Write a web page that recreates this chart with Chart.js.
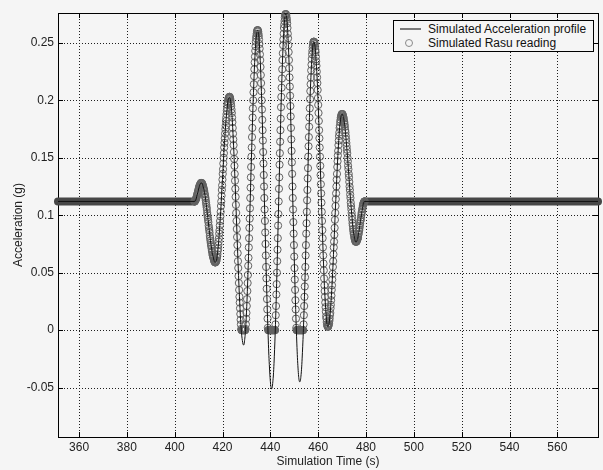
<!DOCTYPE html>
<html>
<head>
<meta charset="utf-8">
<script src="https://cdn.jsdelivr.net/npm/chart.js@4.4.1/dist/chart.umd.min.js"></script>
<style>
  html, body { margin: 0; padding: 0; background: #f5f5f5; }
  #wrap { position: relative; width: 603px; height: 470px; }
  #legend { position: absolute; left: 393px; top: 20px; width: 199px; height: 30px;
            border: 1px solid #000; background: #f5f5f5;
            font: 12px "Liberation Sans", Arial, sans-serif; color: #111; }
  #legend .txt { position: absolute; left: 34px; height: 14px; line-height: 14px; white-space: nowrap; }
  #legend .sw-line { position: absolute; left: 6px; width: 21px; height: 2px; background: #7a7a7a; }
  #legend .sw-circle { position: absolute; width: 8px; height: 8px; box-sizing: border-box;
                       border: 1px solid #8a8a8a; border-radius: 50%; }
</style>
</head>
<body>
<div id="wrap">
  <canvas id="c" width="603" height="470"></canvas>
  <div id="legend"></div>
</div>
<script>
// ---------------- data ----------------
const xTickValues = [360, 380, 400, 420, 440, 460, 480, 500, 520, 540, 560];
const yTickValues = [-0.05, 0, 0.05, 0.1, 0.15, 0.2, 0.25];

const profileLabel = 'Simulated Acceleration profile';
const rasuLabel = 'Simulated Rasu reading';

// steady level before and after the burst (g) and the time spans it covers (s)
const baselineG = 0.112;
const baselineSpans = [[351.2, 408.2], [479.5, 577.0]];

// burst: first sample time (s) and sample spacing of each series (s)
const burstStart = 408.2;
const readingStep = 0.1225;
const profileStep = 0.245;

// Simulated Rasu reading (g), clipped at 0
const rasuReadingG = [
  .112,.112,.112,.113,.113,.114,.114,.115,.116,.117,.118,.119,.120,.121,.122,.123,.124,.125,.126,.126,.127,.127,.128,.128,
  .128,.128,.128,.127,.127,.126,.125,.124,.123,.122,.121,.119,.118,.116,.115,.113,.111,.109,.107,.105,.102,.100,.098,.096,
  .094,.091,.089,.087,.085,.082,.080,.078,.076,.074,.073,.071,.069,.068,.066,.065,.064,.063,.062,.061,.060,.060,.059,.059,
  .059,.059,.060,.060,.061,.063,.064,.066,.069,.071,.074,.077,.080,.084,.087,.091,.095,.099,.103,.108,.112,.117,.122,.126,
  .131,.136,.140,.145,.150,.154,.159,.163,.167,.171,.175,.178,.182,.185,.188,.191,.193,.196,.198,.199,.201,.202,.202,.203,
  .203,.203,.202,.201,.199,.197,.195,.192,.189,.185,.181,.176,.171,.166,.161,.155,.149,.143,.136,.130,.123,.116,.109,.102,
  .095,.088,.081,.074,.067,.060,.054,.047,.041,.035,.029,.024,.019,.014,.009,.005,.001,0,0,0,0,0,0,0,
  0,0,0,0,0,0,0,.001,.005,.010,.015,.021,.027,.034,.041,.048,.056,.063,.072,.080,.089,.097,.106,.115,
  .124,.133,.142,.151,.159,.168,.176,.185,.193,.200,.207,.214,.221,.227,.233,.238,.243,.247,.251,.254,.256,.258,.260,.261,
  .261,.261,.260,.258,.256,.253,.249,.245,.240,.235,.229,.222,.215,.208,.200,.192,.183,.174,.165,.155,.145,.135,.125,.115,
  .105,.095,.085,.075,.065,.055,.045,.036,.027,.018,.010,.002,0,0,0,0,0,0,0,0,0,0,0,0,
  0,0,0,0,0,0,0,0,0,0,0,0,0,.005,.013,.021,.031,.040,.050,.060,.070,.080,.091,.101,
  .112,.123,.133,.144,.154,.164,.174,.184,.194,.203,.211,.219,.227,.235,.241,.248,.253,.258,.263,.266,.269,.272,.274,.275,
  .275,.275,.274,.272,.270,.267,.263,.258,.254,.248,.242,.235,.228,.220,.212,.204,.195,.186,.176,.166,.156,.146,.136,.125,
  .115,.105,.094,.084,.074,.064,.054,.044,.035,.026,.018,.010,.002,0,0,0,0,0,0,0,0,0,0,0,
  0,0,0,0,0,0,0,0,0,0,0,0,0,.005,.013,.021,.029,.038,.046,.055,.065,.074,.084,.093,
  .103,.113,.122,.132,.141,.151,.160,.168,.177,.185,.193,.201,.208,.214,.220,.226,.231,.236,.240,.243,.246,.248,.250,.251,
  .251,.251,.250,.249,.247,.244,.242,.238,.234,.230,.225,.220,.215,.209,.202,.196,.189,.182,.174,.167,.159,.151,.143,.135,
  .127,.119,.111,.103,.095,.087,.080,.072,.065,.058,.052,.045,.039,.034,.029,.024,.020,.016,.012,.010,.007,.005,.004,.003,
  .003,.003,.004,.005,.006,.008,.010,.013,.015,.019,.022,.026,.030,.035,.039,.044,.049,.055,.060,.066,.072,.077,.083,.089,
  .096,.102,.108,.114,.119,.125,.131,.136,.142,.147,.152,.156,.161,.165,.169,.172,.176,.178,.181,.183,.185,.186,.187,.188,
  .188,.188,.188,.187,.186,.185,.184,.182,.181,.179,.177,.174,.172,.169,.166,.163,.160,.157,.154,.150,.147,.143,.140,.136,
  .133,.129,.125,.122,.118,.115,.111,.108,.105,.102,.099,.096,.093,.091,.088,.086,.084,.083,.081,.080,.079,.078,.077,.077,
  .077,.077,.077,.078,.079,.079,.080,.081,.083,.084,.086,.087,.089,.091,.093,.095,.096,.098,.100,.102,.103,.105,.106,.108,
  .109,.110,.111,.111,.112,.112,.112
];

// Simulated Acceleration profile over the burst (g), not clipped
const profileG = [
  .112,.112,.113,.114,.116,.118,.120,.122,.124,.126,.127,.128,
  .128,.128,.127,.125,.123,.121,.118,.115,.111,.107,.102,.098,.094,.089,.085,.080,.076,.073,.069,.066,.064,.062,.060,.059,
  .059,.060,.061,.064,.069,.074,.080,.087,.095,.103,.112,.122,.131,.140,.150,.159,.167,.175,.182,.188,.193,.198,.201,.202,
  .203,.202,.199,.195,.189,.181,.171,.161,.149,.136,.123,.109,.095,.081,.067,.054,.041,.029,.019,.009,.001,-.005,-.009,-.012,
  -.013,-.012,-.008,-.003,.005,.015,.027,.041,.056,.072,.089,.106,.124,.142,.159,.176,.193,.207,.221,.233,.243,.251,.256,.260,
  .261,.260,.256,.249,.240,.229,.215,.200,.183,.165,.145,.125,.105,.085,.065,.045,.027,.010,-.005,-.019,-.030,-.039,-.046,-.050,
  -.051,-.050,-.045,-.039,-.029,-.017,-.003,.013,.031,.050,.070,.091,.112,.133,.154,.174,.194,.211,.227,.241,.253,.263,.269,.274,
  .275,.274,.270,.263,.254,.242,.228,.212,.195,.176,.156,.136,.115,.094,.074,.054,.035,.018,.002,-.012,-.024,-.033,-.040,-.044,
  -.045,-.044,-.040,-.034,-.025,-.014,-.002,.013,.029,.046,.065,.084,.103,.122,.141,.160,.177,.193,.208,.220,.231,.240,.246,.250,
  .251,.250,.247,.242,.234,.225,.215,.202,.189,.174,.159,.143,.127,.111,.095,.080,.065,.052,.039,.029,.020,.012,.007,.004,
  .003,.004,.006,.010,.015,.022,.030,.039,.049,.060,.072,.083,.096,.108,.119,.131,.142,.152,.161,.169,.176,.181,.185,.187,
  .188,.188,.186,.184,.181,.177,.172,.166,.160,.154,.147,.140,.133,.125,.118,.111,.105,.099,.093,.088,.084,.081,.079,.077,
  .077,.077,.079,.080,.083,.086,.089,.093,.096,.100,.103,.106,.109,.111,.112,.112
];

// ---------------- build chart ----------------
const sampled = (values, t0, dt) => values.map((v, i) => ({ x: t0 + i * dt, y: v }));

const profilePoints = [
  { x: baselineSpans[0][0], y: baselineG },
  ...sampled(profileG, burstStart, profileStep),
  { x: baselineSpans[1][1], y: baselineG }
];
const readingPoints = sampled(rasuReadingG, burstStart, readingStep);

const FONT = '"Liberation Sans", Arial, sans-serif';

const matlabFrame = {
  id: 'matlabFrame',
  beforeDatasetsDraw(chart) {
    const { ctx, chartArea: a, scales: { x, y } } = chart;
    ctx.save();
    // dotted grid
    ctx.strokeStyle = '#1e1e1e';
    ctx.lineWidth = 1;
    ctx.setLineDash([1, 2]);
    xTickValues.forEach(v => {
      const px = Math.round(x.getPixelForValue(v)) + 0.5;
      ctx.beginPath(); ctx.moveTo(px, a.top); ctx.lineTo(px, a.bottom); ctx.stroke();
    });
    yTickValues.forEach(v => {
      const py = Math.round(y.getPixelForValue(v)) + 0.5;
      ctx.beginPath(); ctx.moveTo(a.left, py); ctx.lineTo(a.right, py); ctx.stroke();
    });
    // box and inward ticks
    ctx.setLineDash([]);
    ctx.strokeStyle = '#000';
    ctx.strokeRect(a.left + 0.5, a.top + 0.5, a.right - a.left, a.bottom - a.top);
    const tl = 5;
    ctx.beginPath();
    xTickValues.forEach(v => {
      const px = Math.round(x.getPixelForValue(v)) + 0.5;
      ctx.moveTo(px, a.bottom); ctx.lineTo(px, a.bottom - tl);
      ctx.moveTo(px, a.top); ctx.lineTo(px, a.top + tl);
    });
    yTickValues.forEach(v => {
      const py = Math.round(y.getPixelForValue(v)) + 0.5;
      ctx.moveTo(a.left, py); ctx.lineTo(a.left + tl, py);
      ctx.moveTo(a.right, py); ctx.lineTo(a.right - tl, py);
    });
    ctx.stroke();
    ctx.restore();
  }
};

const bandSets = baselineSpans.map(span => ({
  label: rasuLabel,
  data: span.map(t => ({ x: t, y: baselineG })),
  borderColor: '#474747',
  borderWidth: 8,
  borderCapStyle: 'round',
  pointRadius: 0,
  order: 2,
  clip: false
}));

new Chart(document.getElementById('c'), {
  type: 'line',
  data: {
    datasets: [
      {
        label: profileLabel,
        data: profilePoints,
        borderColor: '#111',
        borderWidth: 1,
        pointRadius: 0,
        cubicInterpolationMode: 'monotone',
        order: 0,
        clip: false
      },
      {
        label: rasuLabel,
        data: readingPoints,
        showLine: false,
        pointStyle: 'circle',
        pointRadius: 3.6,
        pointBorderWidth: 1,
        pointBorderColor: '#626262',
        pointBackgroundColor: 'rgba(0,0,0,0)',
        order: 1,
        clip: false
      },
      ...bandSets
    ]
  },
  options: {
    responsive: false,
    animation: false,
    devicePixelRatio: 1,
    layout: { padding: { left: 0, right: 5, top: 13, bottom: 0 } },
    plugins: { legend: { display: false }, tooltip: { enabled: false } },
    events: [],
    scales: {
      x: {
        type: 'linear', min: 351.2, max: 577,
        afterBuildTicks: s => { s.ticks = xTickValues.map(v => ({ value: v })); },
        afterFit: s => { s.height = 33; },
        grid: { display: false, drawTicks: false },
        border: { display: false },
        ticks: { color: '#222', font: { family: FONT, size: 12 }, padding: 3, maxRotation: 0,
                 callback: v => String(v) },
        title: { display: true, text: 'Simulation Time (s)', color: '#222',
                 font: { family: FONT, size: 12 }, padding: { top: 0, bottom: 1 } }
      },
      y: {
        type: 'linear', min: -0.093, max: 0.276,
        afterBuildTicks: s => { s.ticks = yTickValues.map(v => ({ value: v })); },
        afterFit: s => { s.width = 58; },
        grid: { display: false, drawTicks: false },
        border: { display: false },
        ticks: { color: '#222', font: { family: FONT, size: 12 }, padding: 4,
                 callback: v => String(v) },
        title: { display: true, text: 'Acceleration (g)', color: '#222',
                 font: { family: FONT, size: 12 }, padding: { top: 11, bottom: 0 } }
      }
    }
  },
  plugins: [matlabFrame]
});

// legend (inside the axes, top right, like the original)
const legend = document.getElementById('legend');
legend.innerHTML =
  '<div class="sw-line" style="top:7px"></div>' +
  '<div class="txt" style="top:1px"></div>' +
  '<div class="sw-circle" style="left:11px;top:18px"></div>' +
  '<div class="txt" style="top:15px"></div>';
const txts = legend.querySelectorAll('.txt');
txts[0].textContent = profileLabel;
txts[1].textContent = rasuLabel;
</script>
</body>
</html>
